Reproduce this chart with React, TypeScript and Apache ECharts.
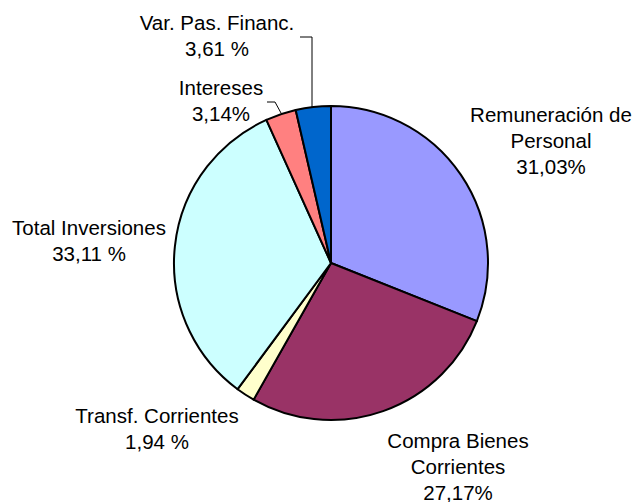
import React, { useEffect, useRef } from "react";
import * as echarts from "echarts";

const categories = [
  "Remuneración de\nPersonal",
  "Compra Bienes\nCorrientes",
  "Transf. Corrientes",
  "Total Inversiones",
  "Intereses",
  "Var. Pas. Financ.",
];
const values = [31.03, 27.17, 1.94, 33.11, 3.14, 3.61];
const percentLabels = ["31,03%", "27,17%", "1,94 %", "33,11 %", "3,14%", "3,61 %"];
const colors = ["#9999FF", "#993366", "#FFFFCC", "#CCFFFF", "#FF8080", "#0066CC"];

// label block centers (layout)
const labelPos: [number, number][] = [
  [551, 140],
  [458, 466],
  [157, 428],
  [89, 240],
  [221, 100],
  [217, 35],
];
const leaderLines: ([number, number][] | null)[] = [
  null,
  null,
  null,
  null,
  [[281, 113], [275, 102], [267, 102]],
  [[312, 107], [312, 37], [300, 37]],
];

export default function App() {
  const ref = useRef<HTMLDivElement>(null);
  useEffect(() => {
    if (!ref.current) return;
    const chart = echarts.init(ref.current, undefined, { renderer: "svg" });
    chart.setOption({
      animation: false,
      backgroundColor: "#ffffff",
      series: [
        {
          type: "pie",
          center: [331, 263],
          radius: 157,
          startAngle: 90,
          clockwise: true,
          avoidLabelOverlap: false,
          itemStyle: { borderColor: "#000000", borderWidth: 2 },
          label: {
            show: true,
            position: "outside",
            color: "#000000",
            fontFamily: "Liberation Sans, Arial, sans-serif",
            fontSize: 20.5,
            lineHeight: 26,
            align: "center",
            formatter: (p: any) => `${categories[p.dataIndex]}\n${percentLabels[p.dataIndex]}`,
          },
          labelLine: { show: false, lineStyle: { color: "#000000", width: 1 } },
          labelLayout: (params: any) => {
            const i = params.dataIndex;
            const res: any = {
              x: labelPos[i][0],
              y: labelPos[i][1],
              align: "center",
              verticalAlign: "middle",
            };
            if (leaderLines[i]) res.labelLinePoints = leaderLines[i];
            return res;
          },
          data: values.map((v, i) => ({
            value: v,
            name: categories[i],
            itemStyle: { color: colors[i] },
            labelLine: { show: leaderLines[i] !== null },
          })),
        },
      ],
    });
    return () => chart.dispose();
  }, []);
  return (
    <div
      ref={ref}
      style={{ position: "absolute", left: 0, top: 0, width: 636, height: 502 }}
    />
  );
}
